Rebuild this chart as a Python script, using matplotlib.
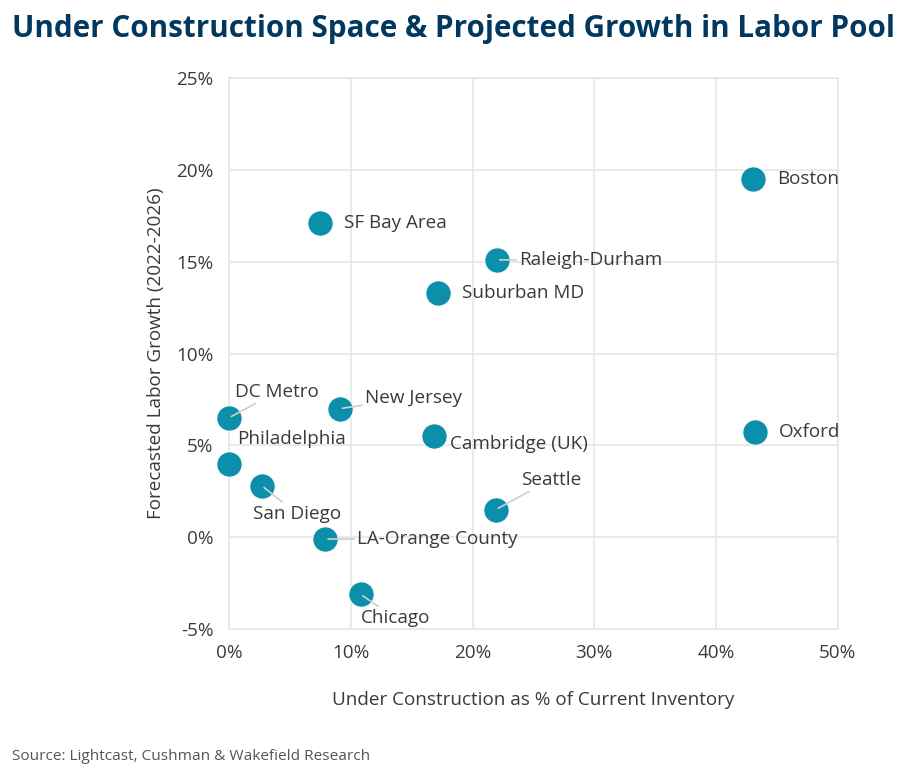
import matplotlib
matplotlib.use("Agg")
import matplotlib.pyplot as plt
from matplotlib.ticker import FuncFormatter, MultipleLocator

# chart data (percent)
markets = ["Boston", "SF Bay Area", "Raleigh-Durham", "Suburban MD", "DC Metro",
           "New Jersey", "Cambridge (UK)", "Oxford", "Philadelphia", "San Diego",
           "Seattle", "LA-Orange County", "Chicago"]
under_construction = [43.0, 7.5, 22.0, 17.2, 0.0, 9.1, 16.8, 43.2, 0.0, 2.7, 21.9, 7.9, 10.8]
labor_growth = [19.5, 17.1, 15.1, 13.3, 6.5, 7.0, 5.5, 5.7, 4.0, 2.8, 1.5, -0.1, -3.1]

# label placement: (dx, dy) in pixels from marker, draw leader
label_offsets = {
    "Boston": (24, 0, False),
    "SF Bay Area": (24, 0, False),
    "Raleigh-Durham": (22, 0, True),
    "Suburban MD": (24, 0, False),
    "DC Metro": (6, 26, True),
    "New Jersey": (25, 11, True),
    "Cambridge (UK)": (16, -8, False),
    "Oxford": (24, 0, False),
    "Philadelphia": (8, 25, False),
    "San Diego": (-9, -28, True),
    "Seattle": (25, 30, True),
    "LA-Orange County": (32, 0, True),
    "Chicago": (0, -24, True),
}

TEAL = "#0B8FAA"
NAVY = "#00385F"
TEXT = "#3A3A3A"
GRID = "#E6E6E6"
FS = 13.6

plt.rcParams["font.family"] = ["Open Sans", "DejaVu Sans"]

fig = plt.figure(figsize=(9.14, 7.78), dpi=100)
ax = fig.add_axes([0.2505, 0.1915, 0.6663, 0.7082])

ax.scatter(under_construction, labor_growth, s=330, color=TEAL, edgecolors="white",
           linewidths=0.6, zorder=3, clip_on=False)

for name, x, y in zip(markets, under_construction, labor_growth):
    dx, dy, leader = label_offsets[name]
    props = dict(arrowstyle="-", color="#CFCFCF", lw=1.2, shrinkA=0, shrinkB=2) if leader else None
    ax.annotate(name, (x, y), xytext=(dx, dy), textcoords="offset pixels",
                ha="left", va="center", fontsize=FS, color=TEXT,
                arrowprops=props, zorder=4)

ax.set_xlim(0, 50)
ax.set_ylim(-5, 25)
ax.xaxis.set_major_locator(MultipleLocator(10))
ax.yaxis.set_major_locator(MultipleLocator(5))
pct = FuncFormatter(lambda v, _: f"{v:.0f}%")
ax.xaxis.set_major_formatter(pct)
ax.yaxis.set_major_formatter(pct)
ax.grid(True, color=GRID, lw=1.2, zorder=0)
ax.set_axisbelow(True)
for spine in ax.spines.values():
    spine.set_color(GRID)
    spine.set_linewidth(1.2)
ax.tick_params(length=0, labelsize=FS, labelcolor=TEXT, pad=11)

ax.set_xlabel("Under Construction as % of Current Inventory", fontsize=FS,
              color=TEXT, labelpad=21)
ax.set_ylabel("Forecasted Labor Growth (2022-2026)", fontsize=FS,
              color=TEXT, labelpad=8)

fig.text(12 / 914, 1 - 29 / 778, "Under Construction Space & Projected Growth in Labor Pool",
         fontsize=21.3, fontweight="bold", color=NAVY, va="center", ha="left")
fig.text(12 / 914, 1 - 757 / 778, "Source: Lightcast, Cushman & Wakefield Research",
         fontsize=11.1, color="#555555", va="center", ha="left")

fig.savefig("out.png", dpi=100)
